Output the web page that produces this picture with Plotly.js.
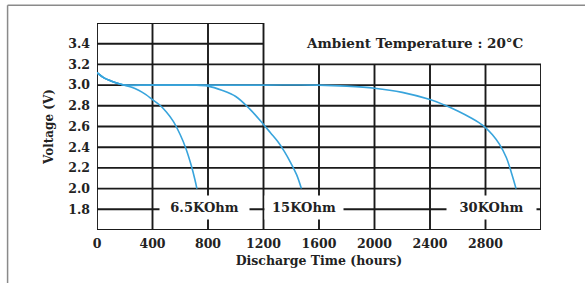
<!DOCTYPE html>
<html>
<head>
<meta charset="utf-8">
<script src="https://cdn.plot.ly/plotly-3.0.1.min.js"></script>
<style>html,body{margin:0;padding:0;background:#fff;}#chart{width:585px;height:283px;}</style>
</head>
<body>
<div id="chart"></div>
<script>
// ---- Data ----
const seriesNames = ['6.5KOhm', '15KOhm', '30KOhm'];

const hours65 = [0, 50, 100, 165, 250, 300, 350, 400, 450, 500, 550, 600, 640, 680, 705, 720];
const volts65 = [3.12, 3.07, 3.04, 3.01, 2.98, 2.95, 2.91, 2.86, 2.81, 2.74, 2.65, 2.52, 2.39, 2.22, 2.09, 2.00];

const hours15 = [0, 50, 100, 165, 200, 300, 400, 500, 600, 700, 800, 900, 1000, 1100, 1200, 1250, 1300, 1350, 1400, 1440, 1473];
const volts15 = [3.12, 3.07, 3.04, 3.01, 3.0, 3.0, 3.0, 3.0, 3.0, 3.0, 2.99, 2.95, 2.89, 2.77, 2.62, 2.54, 2.46, 2.36, 2.24, 2.13, 2.00];

const hours30 = [0, 50, 100, 165, 200, 400, 800, 1200, 1600, 1800, 2000, 2200, 2400, 2500, 2600, 2700, 2750, 2800, 2850, 2900, 2950, 2985, 3020];
const volts30 = [3.12, 3.07, 3.04, 3.01, 3.0, 3.0, 3.0, 3.0, 3.0, 2.99, 2.97, 2.93, 2.86, 2.81, 2.75, 2.68, 2.64, 2.59, 2.52, 2.43, 2.30, 2.16, 2.00];

const xTickVals = [0, 400, 800, 1200, 1600, 2000, 2400, 2800];
const yTickVals = [1.8, 2.0, 2.2, 2.4, 2.6, 2.8, 3.0, 3.2, 3.4];
const xGrid = [0, 400, 800, 1200, 1600, 2000, 2400, 2800, 3200];
const yGrid = [1.6, 1.8, 2.0, 2.2, 2.4, 2.6, 2.8, 3.0, 3.2, 3.4, 3.6];
const labelHours = [775, 1490, 2840];   // where each resistance label sits
const xTitle = 'Discharge Time (hours)';
const yTitle = 'Voltage (V)';
const noteText = 'Ambient Temperature : 20°C';

// ---- Styling ----
const X_MIN = 0, X_MAX = 3200, Y_MIN = 1.6, Y_MAX = 3.6;
const X_SPLIT = 1200, Y_SPLIT = 3.2;   // upper-right part of grid is absent
const gridColor = '#1a1a1a';
const lineColor = '#38a4dc';
const FONT = 'DejaVu Serif, Liberation Serif, serif';

const traces = [[hours65, volts65], [hours15, volts15], [hours30, volts30]].map((s, i) => ({
  type: 'scatter', mode: 'lines', name: seriesNames[i],
  x: s[0], y: s[1],
  line: {color: lineColor, width: 1.6, shape: 'spline', smoothing: 1.0},
  hoverinfo: 'skip'
}));

const shapes = [];
yGrid.forEach(v => {
  shapes.push({type: 'line', layer: 'below', xref: 'x', yref: 'y',
    x0: X_MIN, x1: v > Y_SPLIT ? X_SPLIT : X_MAX, y0: v, y1: v,
    line: {color: gridColor, width: 1.9}});
});
xGrid.forEach(h => {
  shapes.push({type: 'line', layer: 'below', xref: 'x', yref: 'y',
    x0: h, x1: h, y0: Y_MIN, y1: h > X_SPLIT ? Y_SPLIT : Y_MAX,
    line: {color: gridColor, width: 1.9}});
});
// outer frame of the figure (top + left)
shapes.push({type: 'line', xref: 'paper', yref: 'paper', x0: -0.2014, x1: 1.12, y0: 1.0854, y1: 1.0854,
  line: {color: '#8a8a8a', width: 1.5}});
shapes.push({type: 'line', xref: 'paper', yref: 'paper', x0: -0.2014, x1: -0.2014, y0: 1.0854, y1: -0.27,
  line: {color: '#8a8a8a', width: 1.5}});

const labelWidths = [87, 76, 87];
const annotations = seriesNames.map((n, i) => ({
  text: n, x: labelHours[i], y: 1.815, xref: 'x', yref: 'y', showarrow: false,
  bgcolor: '#ffffff', width: labelWidths[i], height: 21,
  font: {family: FONT, size: 13, color: '#222', weight: 'bold'}
}));
annotations.push({
  text: noteText, x: 2290, y: 3.41, xref: 'x', yref: 'y', showarrow: false,
  font: {family: FONT, size: 13.5, color: '#222', weight: 'bold'}
});

const layout = {
  width: 585, height: 283,
  margin: {l: 97, r: 44, t: 23, b: 53},
  paper_bgcolor: '#ffffff', plot_bgcolor: '#ffffff',
  showlegend: false,
  font: {family: FONT, size: 12, color: '#222', weight: 'bold'},
  xaxis: {
    range: [X_MIN, X_MAX], showgrid: false, zeroline: false, showline: false,
    tickmode: 'array', tickvals: xTickVals, ticks: '', ticklabelstandoff: 4,
    tickfont: {family: FONT, size: 12.5, color: '#222', weight: 'bold'},
    title: {text: xTitle, standoff: 6, font: {family: FONT, size: 12.5, color: '#222', weight: 'bold'}},
    automargin: false
  },
  yaxis: {
    range: [Y_MIN, Y_MAX], showgrid: false, zeroline: false, showline: false,
    tickmode: 'array', tickvals: yTickVals, tickformat: '.1f', ticks: '', ticklabelstandoff: 6,
    tickfont: {family: FONT, size: 12.5, color: '#222', weight: 'bold'},
    title: {text: yTitle, standoff: 12, font: {family: FONT, size: 12, color: '#222', weight: 'bold'}},
    automargin: false
  },
  shapes: shapes,
  annotations: annotations
};

Plotly.newPlot('chart', traces, layout, {displayModeBar: false, staticPlot: true});
</script>
</body>
</html>
